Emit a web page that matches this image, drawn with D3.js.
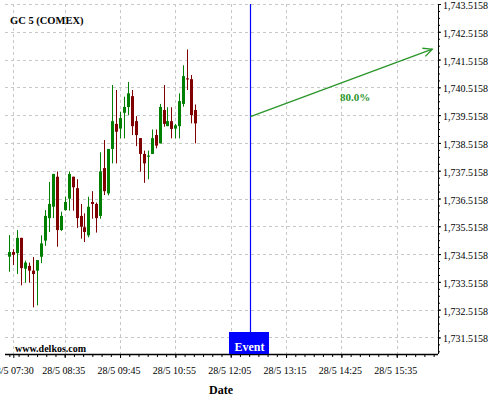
<!DOCTYPE html>
<html><head><meta charset="utf-8">
<script src="https://cdnjs.cloudflare.com/ajax/libs/d3/7.8.5/d3.min.js"></script>
<style>html,body{margin:0;padding:0;background:#fff;}svg{display:block;}</style>
</head><body>
<svg id="c" width="500" height="400"></svg>
<script>
const title = "GC 5 (COMEX)";
const times = ["07:25","07:30","07:35","07:40","07:45","07:50","07:55","08:00","08:05","08:10",
"08:15","08:20","08:25","08:30","08:35","08:40","08:45","08:50","08:55","09:00",
"09:05","09:10","09:15","09:20","09:25","09:30","09:35","09:40","09:45","09:50",
"09:55","10:00","10:05","10:10","10:15","10:20","10:25","10:30","10:35","10:40",
"10:45","10:50","10:55","11:00","11:05","11:10","11:15","11:20"];
const open  = [1734.42,1734.59,1734.55,1735.10,1733.99,1734.09,1733.92,1733.92,1734.42,1735.00,
1735.81,1736.22,1737.30,1735.38,1736.10,1736.51,1737.30,1736.89,1735.89,1735.48,
1735.19,1736.39,1736.32,1735.89,1737.61,1736.70,1738.30,1739.20,1739.03,1739.60,
1739.81,1740.20,1739.30,1738.69,1738.12,1738.02,1738.12,1738.80,1738.50,1739.70,
1739.12,1739.30,1739.03,1739.12,1739.92,1740.84,1740.81,1739.70];
const high  = [1735.20,1734.69,1735.38,1735.10,1734.28,1734.21,1734.41,1734.30,1735.19,1736.10,
1737.11,1737.40,1737.49,1736.04,1736.58,1737.49,1737.30,1737.21,1736.32,1735.98,
1736.58,1736.78,1736.37,1738.18,1738.62,1738.30,1740.60,1740.42,1739.64,1740.18,
1740.71,1740.42,1739.48,1738.69,1738.24,1738.24,1739.00,1739.00,1739.92,1740.60,
1739.80,1739.80,1739.20,1740.30,1741.31,1741.88,1740.96,1739.90];
const low   = [1733.88,1734.12,1733.80,1733.39,1733.49,1733.49,1732.60,1732.67,1734.19,1734.81,
1735.31,1735.81,1734.78,1735.35,1736.08,1736.08,1736.08,1735.46,1735.07,1734.95,
1735.12,1735.79,1735.29,1735.79,1736.64,1736.63,1737.78,1737.78,1738.68,1738.68,
1739.51,1738.80,1738.40,1737.48,1737.08,1737.21,1738.12,1738.32,1738.50,1739.10,
1739.12,1738.68,1738.68,1738.68,1739.82,1740.42,1739.22,1738.50];
const close = [1734.59,1734.49,1735.10,1734.01,1734.21,1733.92,1733.80,1734.30,1734.90,1735.89,
1736.32,1737.40,1735.38,1735.89,1736.39,1737.40,1736.92,1735.81,1735.50,1735.31,
1736.22,1736.32,1735.81,1737.49,1736.78,1738.30,1739.30,1738.92,1739.41,1739.81,
1740.30,1739.12,1738.80,1738.12,1737.78,1738.06,1738.69,1738.42,1739.81,1739.20,
1739.30,1739.02,1739.15,1740.02,1740.92,1740.80,1739.52,1739.22];
const xTickLabels = ["07:30","08:35","09:45","10:55","12:05","13:15","14:25","15:35"];
const yTickValues = [1731.5158,1732.5158,1733.5158,1734.5158,1735.5158,1736.5158,1737.5158,1738.5158,1739.5158,1740.5158,1741.5158,1742.5158,1743.5158];
const eventTime = "12:30";
const arrowStart = {time:"12:30", value:1739.46};
const arrowEnd = {time:"16:20", value:1741.89};
const arrowLabel = "80.0%";

const day = "2015-05-28T";
const pt = s => new Date(day + s + ":00");

const svg = d3.select("#c");
const L = 5, R = 438, T = 4, B = 354;
const x = d3.scaleTime().domain([new Date(pt("07:19").getTime() + 30000), new Date(pt("16:27").getTime() + 12000)]).range([L, R]);
const y = d3.scaleLinear().domain([1730.92, 1743.5158]).range([B, T]);
const serif = "'Liberation Serif','Times New Roman',serif";

// grid
const g = svg.append("g");
g.selectAll("line.h").data(yTickValues).enter().append("line")
  .attr("x1", L).attr("x2", R)
  .attr("y1", d => Math.round(y(d)) + 0.5).attr("y2", d => Math.round(y(d)) + 0.5)
  .attr("stroke", "#c8c8c8").attr("stroke-dasharray", "3,3");
g.selectAll("line.v").data(xTickLabels).enter().append("line")
  .attr("x1", d => Math.round(x(pt(d))) + 0.5).attr("x2", d => Math.round(x(pt(d))) + 0.5)
  .attr("y1", T).attr("y2", B)
  .attr("stroke", "#c8c8c8").attr("stroke-dasharray", "3,3");

// candles
const candles = times.map((t, i) => ({t: pt(t), o: open[i], h: high[i], l: low[i], c: close[i]}));
const cg = svg.append("g");
candles.forEach(d => {
  const cx = Math.round(x(d.t));
  const col = d.c >= d.o ? "#008000" : "#800000";
  cg.append("line").attr("x1", cx + 0.5).attr("x2", cx + 0.5)
    .attr("y1", y(d.h)).attr("y2", y(d.l)).attr("stroke", col).attr("stroke-width", 1);
  const top = y(Math.max(d.o, d.c)), bot = y(Math.min(d.o, d.c));
  cg.append("rect").attr("x", cx - 1).attr("width", 3)
    .attr("y", top).attr("height", Math.max(1, bot - top)).attr("fill", col);
});

// axes
const yAxis = d3.axisRight(y).tickValues(yTickValues).tickFormat(d3.format(",.4f")).tickSize(3).tickPadding(2);
const ya = svg.append("g").attr("transform", `translate(${R},0)`).call(yAxis);
ya.select(".domain").attr("d", `M0.5,${T}V${B}`).attr("stroke", "#000");
ya.selectAll("text").attr("font-family", serif).attr("font-size", 10).attr("fill", "#000").attr("dy", "0.45em");
const yMinor = d3.range(0, 51).map(i => 1731.0158 + i * 0.25).filter(v => v >= y.domain()[0] && v <= y.domain()[1]);
svg.append("g").attr("transform", `translate(${R},0)`).call(d3.axisRight(y).tickValues(yMinor).tickSize(2).tickFormat(""))
  .select(".domain").remove();

const xAxis = d3.axisBottom(x).tickValues(xTickLabels.map(pt)).tickFormat(d3.timeFormat("28/5 %H:%M")).tickSize(4).tickPadding(9);
const xa = svg.append("g").attr("transform", `translate(0,${B})`).call(xAxis);
xa.select(".domain").attr("d", `M${L},0.5H${R}`).attr("stroke", "#000").attr("stroke-width", 1.5);
xa.selectAll("text").attr("font-family", serif).attr("font-size", 10).attr("fill", "#000").attr("dx", -1.5);
const base = pt("12:05").getTime();
const xMinor = d3.range(-30, 30).map(i => new Date(base + i * 70 / 6 * 60000)).filter(d => x(d) >= L && x(d) <= R);
svg.append("g").attr("transform", `translate(0,${B})`).call(d3.axisBottom(x).tickValues(xMinor).tickSize(3).tickFormat(""))
  .select(".domain").remove();

// title & labels
svg.append("text").attr("x", 10).attr("y", 24).attr("font-family", serif).attr("font-weight", "bold")
  .attr("font-size", 10.5).text(title);
svg.append("text").attr("x", 15).attr("y", 352).attr("font-family", serif).attr("font-weight", "bold")
  .attr("font-size", 10).text("www.delkos.com");
svg.append("text").attr("x", 221).attr("y", 394).attr("text-anchor", "middle").attr("font-family", serif)
  .attr("font-weight", "bold").attr("font-size", 12).text("Date");

// event
const ex = Math.round(x(pt(eventTime))) + 0.5;
svg.append("line").attr("x1", ex).attr("x2", ex).attr("y1", T).attr("y2", 332).attr("stroke", "#0000ff").attr("stroke-width", 1.2);
svg.append("rect").attr("x", ex - 21.5).attr("y", 332).attr("width", 40).attr("height", 22).attr("fill", "#0000ff");
svg.append("text").attr("x", ex - 1).attr("y", 351).attr("text-anchor", "middle").attr("font-family", serif)
  .attr("font-weight", "bold").attr("font-size", 12).attr("fill", "#fff").text("Event");

// arrow
const ax1 = x(pt(arrowStart.time)), ay1 = y(arrowStart.value), ax2 = x(pt(arrowEnd.time)), ay2 = y(arrowEnd.value);
const acol = "#2a952a";
svg.append("line").attr("x1", ax1).attr("y1", ay1).attr("x2", ax2).attr("y2", ay2).attr("stroke", acol).attr("stroke-width", 1.3);
const ang = Math.atan2(ay2 - ay1, ax2 - ax1), hl = 10, ha = 0.45;
svg.append("path").attr("d", `M${ax2 - hl*Math.cos(ang - ha)},${ay2 - hl*Math.sin(ang - ha)}L${ax2},${ay2}L${ax2 - hl*Math.cos(ang + ha)},${ay2 - hl*Math.sin(ang + ha)}`)
  .attr("fill", "none").attr("stroke", acol).attr("stroke-width", 1.3);
svg.append("text").attr("x", 355).attr("y", 101).attr("text-anchor", "middle").attr("font-family", serif)
  .attr("font-weight", "bold").attr("font-size", 11).attr("fill", acol).text(arrowLabel);
</script>
</body></html>
